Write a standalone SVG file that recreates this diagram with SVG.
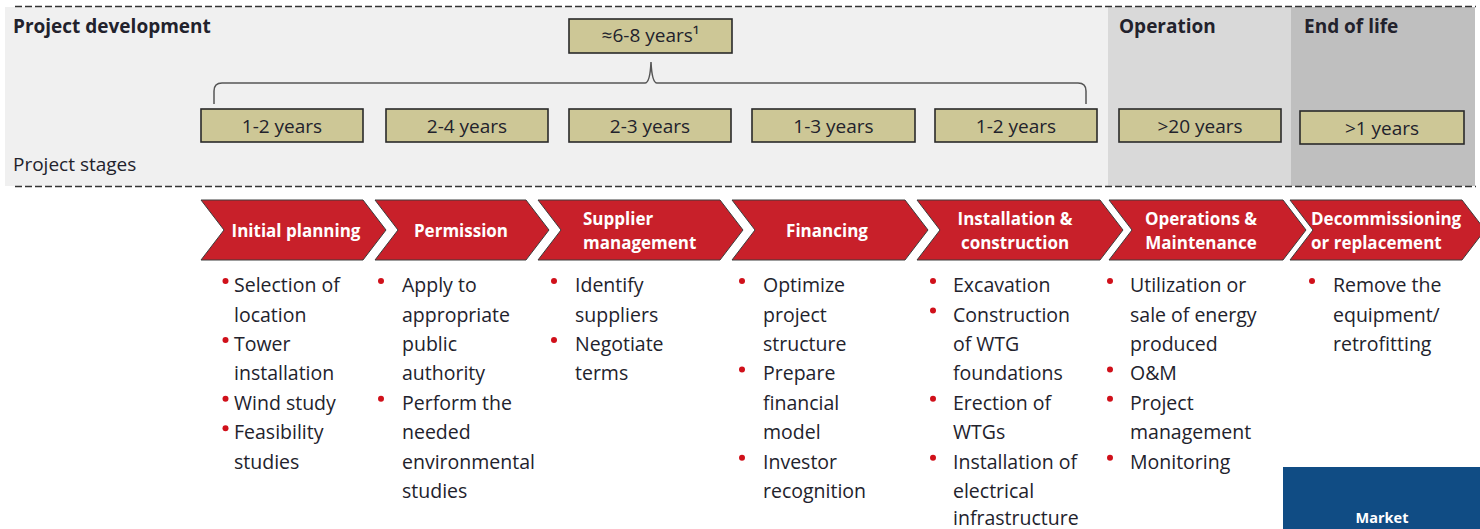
<svg xmlns="http://www.w3.org/2000/svg" width="1480" height="529" viewBox="0 0 1480 529">
<style>
text{font-family:"Open Sans","Noto Sans","Liberation Sans",sans-serif;fill:#22222c}
.hd{font-size:19px;font-weight:bold}
.st{font-size:19px}
.dur{fill:#cdc796;stroke:#2a2a2a;stroke-width:1.6}
.dt{font-size:19px;text-anchor:middle}
.chev{fill:#c8202a;stroke:#3c3c3c;stroke-width:1}
.ct{font-size:17px;font-weight:bold;fill:#fff}
.mid{text-anchor:middle}
.bt{font-size:19.5px}
.dot{fill:#d0101a}
.dash{stroke:#333;stroke-width:1.5;stroke-dasharray:7 3;fill:none}
.brace{fill:none;stroke:#555;stroke-width:1.5}
</style>
<rect width="1480" height="529" fill="#fff"/>
<g id="timeline-panel">
<rect x="5" y="7" width="1103" height="179" fill="#f0f0f0"/>
<rect x="1108" y="7" width="183" height="179" fill="#d9d9d9"/>
<rect x="1291" y="7" width="184" height="179" fill="#bfbfbf"/>
<line class="dash" x1="15" y1="6.5" x2="1476" y2="6.5"/>
<line class="dash" x1="15" y1="186.5" x2="1476" y2="186.5"/>
<text class="hd" x="13" y="33">Project development</text>
<text class="hd" x="1119" y="33">Operation</text>
<text class="hd" x="1304" y="33">End of life</text>
<text class="st" x="13" y="171">Project stages</text>
</g>
<g id="total-duration">
<rect class="dur" x="569" y="19" width="163" height="34"/>
<text class="dt" x="650.5" y="42">≈6-8 years¹</text>
</g>
<g id="connectors">
<path class="brace" d="M214 104 V91 Q214 83 222 83 H645 Q650 83 651 62 Q652 83 657 83 H1078 Q1086 83 1086 91 V104"/>
</g>
<g id="dur-1"><rect class="dur" x="201" y="109" width="162" height="33"/><text class="dt" x="282" y="133">1-2 years</text></g>
<g id="dur-2"><rect class="dur" x="386" y="109" width="162" height="33"/><text class="dt" x="467" y="133">2-4 years</text></g>
<g id="dur-3"><rect class="dur" x="569" y="109" width="162" height="33"/><text class="dt" x="650" y="133">2-3 years</text></g>
<g id="dur-4"><rect class="dur" x="752" y="109" width="163" height="33"/><text class="dt" x="833.5" y="133">1-3 years</text></g>
<g id="dur-5"><rect class="dur" x="935" y="109" width="162" height="33"/><text class="dt" x="1016" y="133">1-2 years</text></g>
<g id="dur-6"><rect class="dur" x="1119" y="109" width="162" height="33"/><text class="dt" x="1200" y="133">&gt;20 years</text></g>
<g id="dur-7"><rect class="dur" x="1300" y="111" width="164" height="33"/><text class="dt" x="1382" y="135">&gt;1 years</text></g>

<g id="stage-initial-planning">
<path class="chev" d="M201 200 H363 L386 230 L363 260 H201 L224 230 Z"/>
<text class="ct mid" x="296" y="237">Initial planning</text>
<g class="bt">
<circle class="dot" cx="225.5" cy="281" r="3"/><text x="234" y="292">Selection of</text>
<text x="234" y="321.5">location</text>
<circle class="dot" cx="225.5" cy="340" r="3"/><text x="234" y="351">Tower</text>
<text x="234" y="380.4">installation</text>
<circle class="dot" cx="225.5" cy="398.8" r="3"/><text x="234" y="409.8">Wind study</text>
<circle class="dot" cx="225.5" cy="428.3" r="3"/><text x="234" y="439.3">Feasibility</text>
<text x="234" y="468.7">studies</text>
</g>
</g>

<g id="stage-permission">
<path class="chev" d="M375 200 H526 L549 230 L526 260 H375 L398 230 Z"/>
<text class="ct mid" x="461" y="237">Permission</text>
<g class="bt">
<circle class="dot" cx="381" cy="281" r="3"/><text x="402" y="292">Apply to</text>
<text x="402" y="321.5">appropriate</text>
<text x="402" y="351">public</text>
<text x="402" y="380.4">authority</text>
<circle class="dot" cx="381" cy="398.8" r="3"/><text x="402" y="409.8">Perform the</text>
<text x="402" y="439.3">needed</text>
<text x="402" y="468.7">environmental</text>
<text x="402" y="498.2">studies</text>
</g>
</g>

<g id="stage-supplier-management">
<path class="chev" d="M538 200 H720 L743 230 L720 260 H538 L561 230 Z"/>
<text class="ct" x="583" y="225">Supplier</text>
<text class="ct" x="583" y="249">management</text>
<g class="bt">
<circle class="dot" cx="554" cy="281" r="3"/><text x="575" y="292">Identify</text>
<text x="575" y="321.5">suppliers</text>
<circle class="dot" cx="554" cy="340" r="3"/><text x="575" y="351">Negotiate</text>
<text x="575" y="380.4">terms</text>
</g>
</g>

<g id="stage-financing">
<path class="chev" d="M732 200 H905 L928 230 L905 260 H732 L755 230 Z"/>
<text class="ct mid" x="827" y="237">Financing</text>
<g class="bt">
<circle class="dot" cx="742" cy="281" r="3"/><text x="763" y="292">Optimize</text>
<text x="763" y="321.5">project</text>
<text x="763" y="351">structure</text>
<circle class="dot" cx="742" cy="369.4" r="3"/><text x="763" y="380.4">Prepare</text>
<text x="763" y="409.8">financial</text>
<text x="763" y="439.3">model</text>
<circle class="dot" cx="742" cy="457.7" r="3"/><text x="763" y="468.7">Investor</text>
<text x="763" y="498.2">recognition</text>
</g>
</g>

<g id="stage-installation">
<path class="chev" d="M917 200 H1100 L1123 230 L1100 260 H917 L940 230 Z"/>
<text class="ct mid" x="1015" y="225">Installation &amp;</text>
<text class="ct mid" x="1015" y="249">construction</text>
<g class="bt">
<circle class="dot" cx="933" cy="281" r="3"/><text x="953" y="292">Excavation</text>
<circle class="dot" cx="933" cy="310.5" r="3"/><text x="953" y="321.5">Construction</text>
<text x="953" y="351">of WTG</text>
<text x="953" y="380.4">foundations</text>
<circle class="dot" cx="933" cy="398.8" r="3"/><text x="953" y="409.8">Erection of</text>
<text x="953" y="439.3">WTGs</text>
<circle class="dot" cx="933" cy="457.7" r="3"/><text x="953" y="468.7">Installation of</text>
<text x="953" y="498.2">electrical</text>
<text x="953" y="524.5">infrastructure</text>
</g>
</g>

<g id="stage-operations">
<path class="chev" d="M1109 200 H1283 L1306 230 L1283 260 H1109 L1132 230 Z"/>
<text class="ct mid" x="1201" y="225">Operations &amp;</text>
<text class="ct mid" x="1201" y="249">Maintenance</text>
<g class="bt">
<circle class="dot" cx="1110" cy="281" r="3"/><text x="1130" y="292">Utilization or</text>
<text x="1130" y="321.5">sale of energy</text>
<text x="1130" y="351">produced</text>
<circle class="dot" cx="1110" cy="369.4" r="3"/><text x="1130" y="380.4">O&amp;M</text>
<circle class="dot" cx="1110" cy="398.8" r="3"/><text x="1130" y="409.8">Project</text>
<text x="1130" y="439.3">management</text>
<circle class="dot" cx="1110" cy="457.7" r="3"/><text x="1130" y="468.7">Monitoring</text>
</g>
</g>

<g id="stage-decommissioning">
<path class="chev" d="M1290 200 H1462 L1485 230 L1462 260 H1290 L1313 230 Z"/>
<text class="ct" x="1311" y="225">Decommissioning</text>
<text class="ct" x="1311" y="249">or replacement</text>
<g class="bt">
<circle class="dot" cx="1312" cy="281" r="3"/><text x="1333" y="292">Remove the</text>
<text x="1333" y="321.5">equipment/</text>
<text x="1333" y="351">retrofitting</text>
</g>
</g>

<g id="market-box">
<rect x="1283" y="467" width="197" height="62" fill="#104c84"/>
<text x="1382" y="523" text-anchor="middle" style="font-size:14.5px;font-weight:bold;fill:#fff">Market</text>
</g>
</svg>
